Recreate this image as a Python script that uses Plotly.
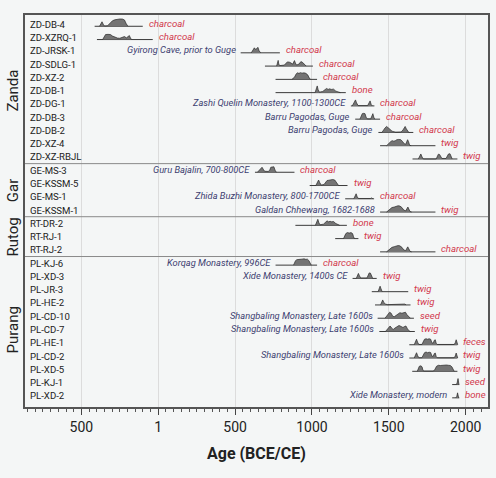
import plotly.graph_objects as go

# ---------------- data ----------------
samples = ["ZD-DB-4", "ZD-XZRQ-1", "ZD-JRSK-1", "ZD-SDLG-1", "ZD-XZ-2", "ZD-DB-1",
           "ZD-DG-1", "ZD-DB-3", "ZD-DB-2", "ZD-XZ-4", "ZD-XZ-RBJL",
           "GE-MS-3", "GE-KSSM-5", "GE-MS-1", "GE-KSSM-1",
           "RT-DR-2", "RT-RJ-1", "RT-RJ-2",
           "PL-KJ-6", "PL-XD-3", "PL-JR-3", "PL-HE-2", "PL-CD-10", "PL-CD-7",
           "PL-HE-1", "PL-CD-2", "PL-XD-5", "PL-KJ-1", "PL-XD-2"]

groups = ["Zanda", "Gar", "Rutog", "Purang"]
group_sizes = [11, 4, 3, 11]

range_start = [-414, -399, 536, 694, 763, 763, 1253, 1281, 1432, 1443, 1654,
               629, 985, 1216, 1443,
               892, 1151, 1443,
               763, 1264, 1389, 1410, 1427, 1438, 1633, 1633, 1652, 1912, 1912]
range_end = [-101, -36, 791, 1006, 1033, 1220, 1406, 1443, 1659, 1803, 1946,
             886, 1231, 1404, 1803,
             1227, 1302, 1803,
             1033, 1421, 1626, 1641, 1663, 1669, 1946, 1946, 1946, 1958, 1958]

sites = ["", "", "Gyirong Cave, prior to Guge", "", "", "",
         "Zashi Quelin Monastery, 1100-1300CE", "Barru Pagodas, Guge",
         "Barru Pagodas, Guge", "", "",
         "Guru Bajalin, 700-800CE", "", "Zhida Buzhi Monastery, 800-1700CE",
         "Galdan Chhewang, 1682-1688",
         "", "", "",
         "Korqag Monastery, 996CE", "Xide Monastery, 1400s CE", "", "",
         "Shangbaling Monastery, Late 1600s", "Shangbaling Monastery, Late 1600s",
         "", "Shangbaling Monastery, Late 1600s", "", "", "Xide Monastery, modern"]

materials = ["charcoal", "charcoal", "charcoal", "charcoal", "charcoal", "bone",
             "charcoal", "charcoal", "charcoal", "twig", "twig",
             "charcoal", "twig", "charcoal", "twig",
             "bone", "twig", "charcoal",
             "charcoal", "twig", "twig", "twig", "seed", "twig",
             "feces", "twig", "twig", "seed", "bone"]

# probability-density outlines: (year, height in px)
densities = [
    [(-382, 0), (-372, 2.5), (-366, 4.5), (-358, 2), (-350, 0.3), (-330, 0.5), (-314, 3),
     (-298, 5.5), (-282, 6.5), (-266, 7), (-250, 7.3), (-233, 7.2), (-220, 6.3), (-210, 3), (-198, 0)],
    [(-362, 0), (-352, 3), (-343, 5), (-327, 5.2), (-311, 5), (-298, 3.5), (-285, 2.5), (-266, 1.5),
     (-250, 1.3), (-240, 1.8), (-229, 2.8), (-220, 3), (-207, 1.7), (-196, 3.5), (-188, 4), (-181, 1.5),
     (-173, 0)],
    [(605, 0), (618, 3), (625, 5), (632, 3.5), (640, 4), (648, 5.5), (656, 2), (666, 0)],
    [(770, 0), (777, 3), (780, 5.7), (784, 2), (790, 0.5), (820, 1), (832, 3.5), (840, 4.2),
     (855, 3.8), (866, 3), (875, 2), (881, 4), (886, 5.5), (892, 3), (900, 1), (915, 2),
     (928, 4.5), (940, 3.5), (950, 1.5), (962, 0)],
    [(870, 0), (880, 1.5), (888, 2.5), (895, 5), (905, 6.5), (915, 6), (925, 6.7), (935, 6.2),
     (948, 6.5), (960, 6), (972, 4.5), (982, 1.5), (990, 0)],
    [(1020, 0), (1028, 4), (1034, 6.7), (1040, 3), (1048, 0.5), (1070, 1.2), (1085, 3), (1095, 4.2),
     (1105, 3.2), (1115, 3.8), (1125, 3.2), (1140, 3.5), (1155, 1.5), (1170, 0.5), (1185, 0)],
    [(1262, 0), (1272, 3.5), (1278, 5.5), (1283, 6), (1290, 3), (1300, 0.3), (1362, 0.3),
     (1370, 2.5), (1378, 5), (1385, 1.5), (1392, 0)],
    [(1312, 0), (1320, 3.5), (1327, 5.5), (1336, 5.8), (1345, 5.5), (1352, 2), (1360, 0.3),
     (1382, 0.3), (1390, 4), (1396, 5.5), (1402, 2), (1408, 0)],
    [(1455, 0), (1465, 2.5), (1475, 4.5), (1485, 6), (1495, 5), (1505, 3.5), (1515, 2), (1525, 1),
     (1545, 0.3), (1580, 0.5), (1592, 2.5), (1600, 5), (1606, 6), (1614, 3.5), (1622, 1), (1630, 0)],
    [(1485, 0), (1495, 1.5), (1505, 3.5), (1515, 4.5), (1523, 5), (1532, 4.5), (1542, 5), (1552, 6),
     (1565, 6.3), (1578, 6), (1590, 4), (1600, 2), (1610, 1.5), (1617, 4), (1622, 6), (1628, 4),
     (1635, 0.5), (1645, 0)],
    [(1692, 0), (1700, 2), (1708, 5), (1716, 2), (1724, 0), (1808, 0), (1815, 2.5), (1822, 4.8),
     (1830, 4.5), (1838, 1.5), (1845, 0.5), (1872, 0.5), (1880, 2.5), (1888, 5), (1898, 5.2),
     (1906, 2), (1912, 0)],
    [(645, 0), (655, 1.5), (665, 3.5), (675, 5), (683, 3), (692, 1), (715, 0.8), (725, 2), (732, 5),
     (742, 5.2), (752, 5.5), (760, 2), (768, 0)],
    [(1025, 0), (1034, 3), (1043, 5.5), (1050, 3), (1060, 0.5), (1078, 1), (1088, 3.5), (1098, 5),
     (1110, 5.3), (1122, 5.8), (1135, 6), (1148, 5.5), (1158, 3.5), (1165, 1), (1173, 0)],
    [(1272, 0), (1280, 2.5), (1287, 5), (1294, 2), (1302, 0.3), (1380, 0.3), (1389, 0.9), (1396, 0)],
    [(1485, 0), (1495, 1.5), (1508, 3.5), (1520, 4.5), (1535, 5), (1548, 6), (1560, 6.3), (1572, 6),
     (1585, 4.5), (1597, 2), (1610, 1.2), (1618, 3.5), (1624, 5), (1630, 3), (1638, 0.5), (1648, 0)],
    [(1022, 0), (1030, 3.5), (1038, 6), (1045, 2.5), (1052, 0.5), (1075, 1.2), (1088, 3), (1098, 4.5),
     (1108, 3.5), (1118, 4), (1128, 3.5), (1140, 3.8), (1155, 1.8), (1168, 0.5), (1180, 0)],
    [(1205, 0), (1212, 2), (1220, 5), (1230, 6), (1242, 5.5), (1254, 6), (1264, 5), (1270, 2), (1276, 0)],
    [(1485, 0), (1495, 1.5), (1508, 3.5), (1520, 4.5), (1535, 5.2), (1548, 6), (1560, 6.3), (1572, 6),
     (1585, 4.5), (1597, 2), (1610, 1.2), (1617, 3.5), (1623, 5), (1630, 3), (1638, 0.5), (1648, 0)],
    [(880, 0), (886, 2.5), (893, 4.5), (902, 5.5), (912, 5.3), (922, 5.8), (935, 6), (948, 6.3),
     (960, 5.8), (970, 6), (980, 4.5), (988, 1.5), (995, 0)],
    [(1288, 0), (1296, 3), (1302, 5), (1309, 2.5), (1317, 0.5), (1358, 0.5), (1366, 3.5), (1372, 5.5),
     (1380, 5.3), (1388, 2), (1395, 0)],
    [(1430, 0), (1437, 3), (1443, 5.5), (1449, 3), (1456, 0)],
    [(1446, 0), (1453, 3), (1460, 5), (1467, 2.5), (1477, 1), (1490, 0.3), (1598, 0.3), (1605, 0.9),
     (1612, 0)],
    [(1475, 0), (1485, 2), (1495, 4.5), (1505, 6), (1515, 5), (1525, 2), (1535, 1.5), (1548, 3),
     (1560, 5), (1572, 5.5), (1585, 5), (1598, 5.8), (1608, 6), (1618, 3.5), (1628, 1.5), (1640, 0)],
    [(1478, 0), (1490, 2.5), (1500, 4.5), (1508, 5.5), (1518, 3.5), (1528, 2), (1540, 3.5), (1552, 5),
     (1566, 6), (1580, 5), (1592, 4), (1602, 5), (1611, 5.5), (1620, 3), (1630, 0.8), (1640, 0)],
    [(1665, 0), (1673, 3), (1680, 5.5), (1687, 2.5), (1695, 0.3), (1715, 0.3), (1723, 3), (1732, 5.5),
     (1742, 6), (1752, 5.5), (1762, 6), (1772, 5.5), (1780, 2), (1788, 1.5), (1796, 4.5), (1802, 5),
     (1808, 1.5), (1815, 0.3), (1925, 0.3), (1932, 2), (1938, 5), (1944, 0.5), (1948, 0)],
    [(1665, 0), (1673, 3), (1680, 5.3), (1687, 2.5), (1695, 0.3), (1715, 0.3), (1723, 3), (1732, 5.3),
     (1742, 6), (1752, 5.3), (1762, 5.8), (1772, 5.5), (1780, 2), (1788, 1.5), (1796, 4.5), (1802, 5),
     (1808, 1.5), (1815, 0.3), (1925, 0.3), (1932, 2), (1938, 5), (1944, 0.5), (1948, 0)],
    [(1685, 0), (1692, 2.5), (1698, 5), (1708, 5.5), (1716, 4.5), (1722, 1), (1728, 0.3), (1790, 0.3),
     (1800, 2), (1810, 5), (1822, 6), (1835, 5.8), (1848, 6.2), (1862, 6), (1875, 6.3), (1888, 6),
     (1900, 5.8), (1910, 4.5), (1918, 1), (1925, 0)],
    [(1938, 0), (1944, 1.5), (1950, 6), (1953, 1), (1956, 0)],
    [(1936, 0), (1942, 1.5), (1947, 5), (1950, 1), (1954, 0)],
]

tick_vals = [-500, 0, 500, 1000, 1500, 2000]
tick_text = ["500", "1", "500", "1000", "1500", "2000"]

# ---------------- figure ----------------
ROW_PX = 13.26
FONT = "Roboto"
fig = go.Figure()

# range lines
lx, ly = [], []
for i in range(len(samples)):
    base = i + 0.15
    lx += [range_start[i], range_end[i], None]
    ly += [base, base, None]
fig.add_trace(go.Scatter(x=lx, y=ly, mode="lines", line=dict(color="#3a3a3a", width=1),
                         hoverinfo="skip", showlegend=False))

# densities
dx, dy = [], []
for i, prof in enumerate(densities):
    base = i + 0.15
    for yr, h in prof:
        dx.append(yr)
        dy.append(base - h / ROW_PX)
    dx.append(None)
    dy.append(None)
fig.add_trace(go.Scatter(x=dx, y=dy, mode="lines", fill="toself", fillcolor="#747474",
                         line=dict(color="#2a2a2a", width=0.7), hoverinfo="skip",
                         showlegend=False))

ann = []
for i, name in enumerate(samples):
    ann.append(dict(x=0.0065, xref="paper", y=i, yref="y", text=name, showarrow=False,
                    xanchor="left", yanchor="middle",
                    font=dict(family=FONT, size=9.6, color="#222222")))
    ann.append(dict(x=range_end[i], xref="x", y=i - 0.08, yref="y", text="<i>%s</i>" % materials[i],
                    showarrow=False, xanchor="left", yanchor="middle", xshift=4,
                    font=dict(family=FONT, size=9.6, color="#d2384c")))
    if sites[i]:
        ann.append(dict(x=range_start[i], xref="x", y=i - 0.08, yref="y", text="<i>%s</i>" % sites[i],
                        showarrow=False, xanchor="right", yanchor="middle", xshift=-3,
                        font=dict(family=FONT, size=9.3, color="#3c4070")))

shapes = []
start = 0
for g, n in zip(groups, group_sizes):
    mid = start + (n - 1) / 2
    ann.append(dict(x=-0.026, xref="paper", y=mid, yref="y", text=g, showarrow=False,
                    textangle=-90, xanchor="center", yanchor="middle",
                    font=dict(family=FONT, size=15, color="#222222")))
    if start > 0:
        shapes.append(dict(type="line", xref="paper", x0=0, x1=1, yref="y",
                           y0=start - 0.5, y1=start - 0.5, line=dict(color="#8a8a8a", width=1)))
    start += n

ann.append(dict(x=0.5, xref="paper", y=-0.118, yref="paper", text="<b>Age (BCE/CE)</b>",
                showarrow=False, xanchor="center", yanchor="middle",
                font=dict(family=FONT, size=16, color="#222222")))

fig.update_layout(
    width=496, height=478,
    margin=dict(l=25, r=6, t=15, b=71),
    paper_bgcolor="#f4f6f6", plot_bgcolor="#f4f6f6",
    annotations=ann, shapes=shapes, showlegend=False,
    xaxis=dict(range=[-867, 2145], tickvals=tick_vals, ticktext=tick_text,
               ticks="outside", ticklen=6, tickwidth=1.2, tickcolor="#444444",
               showline=True, linecolor="#555555", linewidth=1.5, mirror=True,
               showgrid=True, gridcolor="#dcdcdc", gridwidth=1, zeroline=False,
               tickfont=dict(family=FONT, size=14, color="#222222"),
               minor=dict(dtick=50, tick0=0, ticks="outside", ticklen=3.5,
                          tickcolor="#555555", tickwidth=1, showgrid=False)),
    yaxis=dict(range=[28.84, -0.70], showline=True, linecolor="#555555", linewidth=1.5,
               mirror=True, showgrid=False, zeroline=False, showticklabels=False, ticks=""),
)

fig.write_html("out.html", config={"displayModeBar": False},
               post_script="document.body.style.margin='0';document.body.style.background='#f4f6f6';")
